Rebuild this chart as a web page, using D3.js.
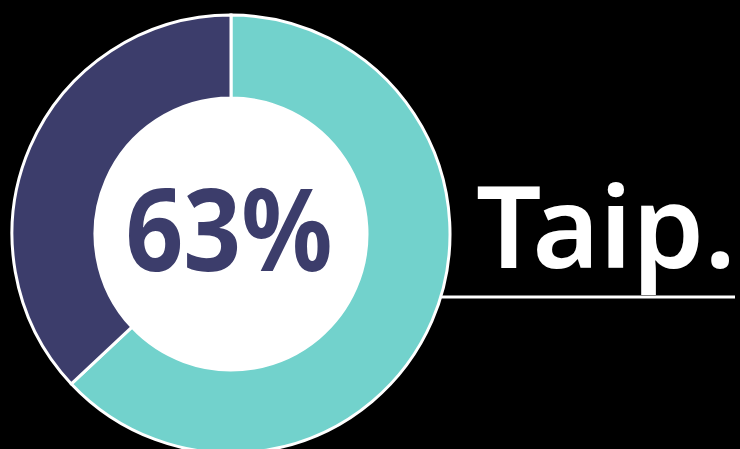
<!DOCTYPE html>
<html>
<head>
<meta charset="utf-8">
<script src="https://cdn.jsdelivr.net/npm/d3@7"></script>
<style>
  html, body { margin: 0; padding: 0; background: #000; }
  svg { display: block; }
</style>
</head>
<body>
<svg id="visualisation" width="740" height="449"></svg>
<script>
// data
var categories = ["Taip", "Ne"];
var values = [63, 37];
var colors = ["#72d2cc", "#3c3d6b"];
var centerLabel = "63%";
var sideLabel = "Taip.";

var vis = d3.select("#visualisation"),
    WIDTH = 740,
    HEIGHT = 449,
    CX = 231,
    CY = 234,
    OUTER = 219,
    INNER = 136;

vis.append("rect")
    .attr("width", WIDTH)
    .attr("height", HEIGHT)
    .attr("fill", "#000");

// underline for the label, starts at ring edge
vis.append("line")
    .attr("x1", CX + 205)
    .attr("x2", 735)
    .attr("y1", 297)
    .attr("y2", 297)
    .attr("stroke", "#fff")
    .attr("stroke-width", 3);

var pie = d3.pie().sort(null).value(function(d){ return d; });
var arcGen = d3.arc().innerRadius(INNER).outerRadius(OUTER);

var g = vis.append("g")
    .attr("transform", "translate(" + CX + "," + CY + ")");

g.selectAll("path")
    .data(pie(values))
    .enter()
    .append("path")
    .attr("d", arcGen)
    .attr("fill", function(d, i){ return colors[i]; })
    .attr("stroke", "#fff")
    .attr("stroke-width", 3);

g.append("circle")
    .attr("r", INNER)
    .attr("fill", "#fff");

g.append("text")
    .attr("text-anchor", "middle")
    .attr("x", -2)
    .attr("y", 37)
    .attr("font-family", "'Noto Sans', sans-serif")
    .attr("font-weight", "bold")
    .attr("font-size", 114)
    .attr("fill", colors[1])
    .attr("textLength", 207)
    .attr("lengthAdjust", "spacingAndGlyphs")
    .text(centerLabel);

vis.append("text")
    .attr("x", 476)
    .attr("y", 268)
    .attr("font-family", "'Noto Sans', sans-serif")
    .attr("font-weight", 600)
    .attr("font-size", 114)
    .attr("fill", "#fff")
    .attr("textLength", 260)
    .attr("lengthAdjust", "spacingAndGlyphs")
    .text(sideLabel);
</script>
</body>
</html>
